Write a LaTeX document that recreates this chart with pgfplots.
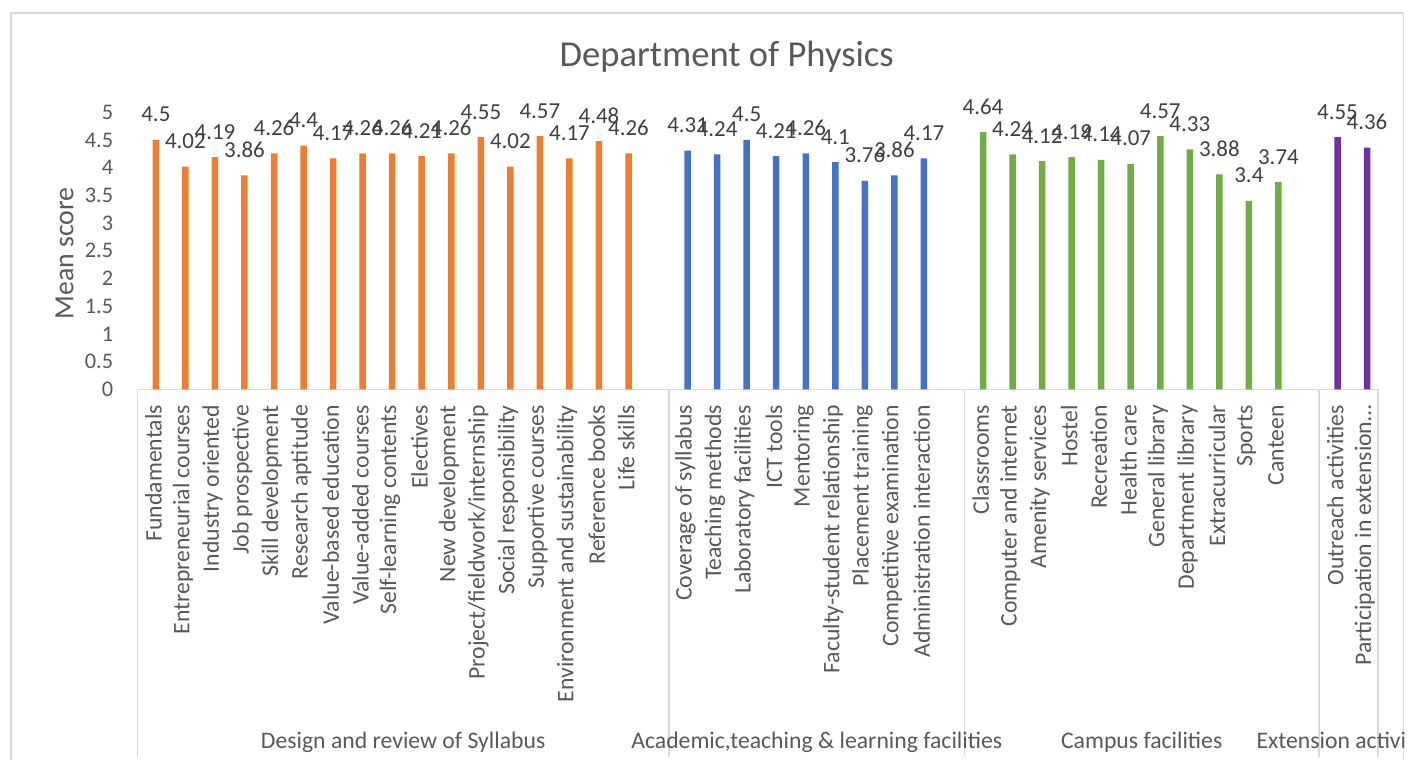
\documentclass[border=0pt]{standalone}
\usepackage{fontspec}
\setmainfont{Carlito}
\usepackage{pgfplots}
\pgfplotsset{compat=1.18}

\definecolor{barOrange}{HTML}{ED7D31}
\definecolor{barBlue}{HTML}{4472C4}
\definecolor{barGreen}{HTML}{70AD47}
\definecolor{barPurple}{HTML}{7030A0}
\definecolor{labelGray}{HTML}{595959}
\definecolor{dataGray}{HTML}{404040}
\definecolor{frameGray}{HTML}{D9D9D9}

\newcommand\tickfont{\fontsize{22.4}{26}\selectfont}
\newcommand\catfont{\fontsize{23.8}{27}\selectfont}
\newcommand\datafont{\fontsize{23}{26}\selectfont}

\begin{document}
\begin{tikzpicture}[x=1bp,y=1bp]
\path[use as bounding box] (0,0) rectangle (1408,760);
\begin{scope}
\clip (0,0) rectangle (1404.5,760);
\fill[white] (0,0) rectangle (1408,760);
\draw[frameGray, line width=1.5bp] (11,0) -- (11,747) -- (1403.5,747) -- (1403.5,0);

% title and y label
\node[anchor=base, text=labelGray, font=\fontsize{36.7}{42}\selectfont] at (726.7,693.3) {Department of Physics};
\node[anchor=base, rotate=90, text=labelGray, font=\fontsize{27.9}{32}\selectfont] at (73.3,506.7) {Mean score};

\begin{axis}[
    at={(137.3bp,370.7bp)}, anchor=south west,
    scale only axis,
    width=1240.7bp, height=277bp,
    xmin=-0.5, xmax=41.5,
    ymin=0, ymax=5,
    ybar, bar width=6.5bp,
    axis x line=bottom, axis y line=left,
    axis line style={-, draw=frameGray, line width=1.5bp},
    y axis line style={draw=none},
    major tick length=0pt,
    ytick={0,0.5,...,5},
    /pgf/number format/assume math mode=true,
    yticklabel style={anchor=east, inner sep=0pt, xshift=-24bp, font=\tickfont, text=labelGray},
    xtick={0,1,2,3,4,5,6,7,8,9,10,11,12,13,14,15,16,
           18,19,20,21,22,23,24,25,26,
           28,29,30,31,32,33,34,35,36,37,38,
           40,41},
    xticklabels={Fundamentals,Entrepreneurial courses,Industry oriented,Job prospective,
        Skill development,Research aptitude,Value-based education,Value-added courses,
        Self-learning contents,Electives,New development,Project/fieldwork/internship,
        Social responsibility,Supportive courses,Environment and sustainability,
        Reference books,Life skills,
        Coverage of syllabus,Teaching methods,Laboratory facilities,ICT tools,Mentoring,
        Faculty-student relationship,Placement training,Competitive examination,
        Administration interaction,
        Classrooms,Computer and internet,Amenity services,Hostel,Recreation,Health care,
        General library,Department library,Extracurricular,Sports,Canteen,
        Outreach activities,Participation in extension…},
    xticklabel style={yshift=-15.7bp, xshift=1.5bp, rotate=90, anchor=east, inner sep=0pt,
        font=\catfont, text=labelGray},
    nodes near coords,
    every node near coord/.append style={font=\datafont, text=dataGray, inner sep=0pt,
        anchor=base, yshift=18bp},
    clip=false,
]
\addplot[fill=barOrange, draw=none, bar shift=3.8bp] coordinates {
  (0,4.5) (1,4.02) (2,4.19) (3,3.86) (4,4.26) (5,4.4) (6,4.17) (7,4.26) (8,4.26)
  (9,4.21) (10,4.26) (11,4.55) (12,4.02) (13,4.57) (14,4.17) (15,4.48) (16,4.26)
};
\addplot[fill=barBlue, draw=none, bar shift=3.8bp] coordinates {
  (18,4.31) (19,4.24) (20,4.5) (21,4.21) (22,4.26) (23,4.1) (24,3.76) (25,3.86) (26,4.17)
};
\addplot[fill=barGreen, draw=none, bar shift=3.8bp] coordinates {
  (28,4.64) (29,4.24) (30,4.12) (31,4.19) (32,4.14) (33,4.07) (34,4.57) (35,4.33)
  (36,3.88) (37,3.4) (38,3.74)
};
\addplot[fill=barPurple, draw=none, bar shift=3.8bp] coordinates {
  (40,4.55) (41,4.36)
};

% group separators of the two-level category axis
\draw[frameGray, line width=1.5bp] (axis cs:-0.5,0) -- ++(0bp,-367.7bp);
\draw[frameGray, line width=1.5bp] (axis cs:17.5,0) -- ++(0bp,-367.7bp);
\draw[frameGray, line width=1.5bp] (axis cs:27.5,0) -- ++(0bp,-367.7bp);
\draw[frameGray, line width=1.5bp] (axis cs:39.5,0) -- ++(0bp,-367.7bp);
\draw[frameGray, line width=1.5bp] (axis cs:41.5,0) -- ++(0bp,-367.7bp);
\node[anchor=base, yshift=-358.7bp, text=labelGray, font=\catfont] at (axis cs:8.5,0) {Design and review of Syllabus};
\node[anchor=base, yshift=-358.7bp, text=labelGray, font=\catfont] at (axis cs:22.5,0) {Academic,teaching \& learning facilities};
\node[anchor=base, yshift=-358.7bp, text=labelGray, font=\catfont] at (axis cs:33.5,0) {Campus facilities};
\node[anchor=base, yshift=-358.7bp, text=labelGray, font=\catfont] at (axis cs:40.5,0) {Extension activities};
\end{axis}
\end{scope}
\end{tikzpicture}
\end{document}
